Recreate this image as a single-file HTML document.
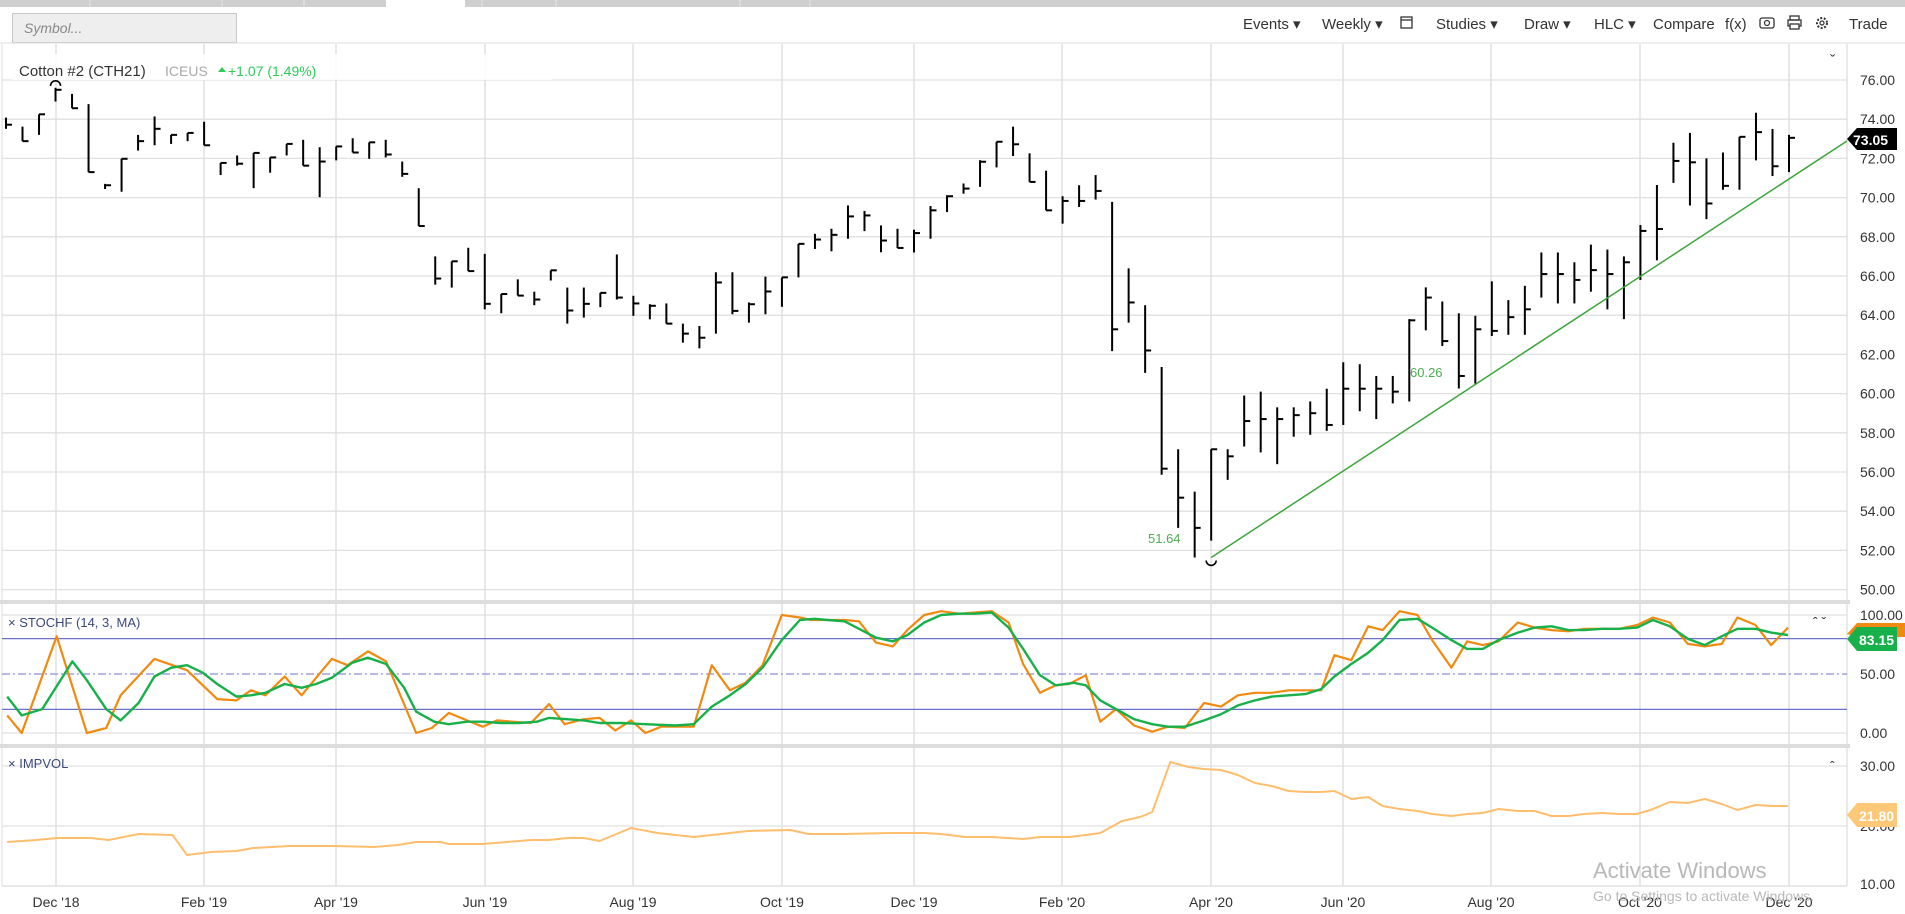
<!DOCTYPE html>
<html><head><meta charset="utf-8">
<style>
html,body{margin:0;padding:0;background:#fff;width:1905px;height:914px;overflow:hidden;font-family:"Liberation Sans",sans-serif;}
svg{position:absolute;left:0;top:0;}
text{font-family:"Liberation Sans",sans-serif;}
</style></head>
<body>
<svg id="s" width="1905" height="914" xmlns="http://www.w3.org/2000/svg"></svg>
<script>
const S=document.getElementById('s');let h='';
function L(x1,y1,x2,y2,c,w,extra){h+=`<line x1="${x1}" y1="${y1}" x2="${x2}" y2="${y2}" stroke="${c}" stroke-width="${w}" ${extra||''}/>`;}
function T(x,y,t,sz,c,extra){h+=`<text x="${x}" y="${y}" font-size="${sz}" fill="${c}" ${extra||''}>${t}</text>`;}
h+=`<rect x="0" y="0" width="1905" height="7" fill="#cfcfcf"/>`;
h+=`<rect x="386" y="0" width="79" height="7" fill="#fff"/>`;
[90,222,304,482,556,740,810].forEach(x=>L(x,0,x,7,'#e8e8e8',1));
h+=`<rect x="12.5" y="13.5" width="224" height="29" fill="#eee" stroke="#c8c8c8"/>`;
T(24,33,'Symbol...',14,'#888','font-style="italic"');
const tb=[[1243,'Events ▾'],[1322,'Weekly ▾'],[1436,'Studies ▾'],[1524,'Draw ▾'],[1594,'HLC ▾'],[1653,'Compare'],[1725,'f(x)'],[1849,'Trade']];
tb.forEach(a=>T(a[0],29,a[1],15,'#333'));
h+=`<rect x="1401" y="17" width="11" height="11" fill="none" stroke="#333" stroke-width="1.3"/>`;L(1401,20,1412,20,'#333',1.3);
h+=`<rect x="1760" y="18" width="14" height="10" rx="2" fill="none" stroke="#333" stroke-width="1.3"/><circle cx="1767" cy="23" r="2.5" fill="none" stroke="#333" stroke-width="1.2"/>`;
h+=`<rect x="1790" y="16" width="9" height="4" fill="none" stroke="#333" stroke-width="1.3"/><rect x="1788" y="20" width="13" height="6" fill="none" stroke="#333" stroke-width="1.3"/><rect x="1790" y="24" width="9" height="5" fill="#fff" stroke="#333" stroke-width="1.3"/>`;
h+=`<circle cx="1822" cy="23" r="5" fill="none" stroke="#333" stroke-width="2" stroke-dasharray="2 1.6"/><circle cx="1822" cy="23" r="2" fill="none" stroke="#333" stroke-width="1.2"/>`;
L(0,43,1905,43,'#ddd',1);
const gx=[56,204,336,485,633,782,914,1062,1211,1343,1491,1640,1789];
const gl=["Dec '18","Feb '19","Apr '19","Jun '19","Aug '19","Oct '19","Dec '19","Feb '20","Apr '20","Jun '20","Aug '20","Oct '20","Dec '20"];
gx.forEach((x,i)=>{L(x,44,x,886,'#dcdcdc',1.3);T(x,907,gl[i],14,'#333','text-anchor="middle"');});
const py=p=>80+(76-p)*19.6;
for(let p=50;p<=76;p+=2){L(2,py(p),1847,py(p),'#e0e0e0',1.3);T(1860,py(p)+5,p.toFixed(2),14,'#333');}
L(2,44,2,886,'#ddd',1);L(1847,44,1847,886,'#ddd',1.3);
h+=`<rect x="0" y="600" width="1850" height="4" fill="#ddd"/>`;
h+=`<rect x="0" y="744" width="1850" height="4" fill="#ddd"/>`;
L(2,886,1847,886,'#ddd',1.3);
h+=`<rect x="12" y="54" width="540" height="26" fill="rgba(255,255,255,0.85)"/>`;
T(19,76,'Cotton #2 (CTH21)',15,'#333');T(165,76,'ICEUS',14,'#aaa');
h+=`<path d="M218 72 l4 -5 l4 5z" fill="#2ecc55"/>`;T(228,76,'+1.07 (1.49%)',14,'#2ecc55');
T(1830,66,'ˇ',16,'#333');
const B=[[74.08,73.51,73.72],[73.62,72.88,72.88],[74.25,73.2,74.25],[75.6,74.9,75.5],[75.29,74.56,74.56],[74.77,71.3,71.3],[70.7,70.44,70.63],[71.98,70.3,71.98],[73.2,72.4,72.88],[74.14,72.67,73.51],[73.2,72.74,73.2],[73.3,72.88,73.3],[73.87,72.67,72.67],[71.77,71.15,71.77],[72.15,71.63,71.73],[72.28,70.48,72.28],[72.05,71.27,72.05],[72.74,72.15,72.74],[72.95,71.63,71.63],[72.57,70.02,71.84],[72.61,71.9,72.61],[73.03,72.3,72.3],[72.82,71.98,72.82],[72.95,72.05,72.2],[71.84,71.06,71.21],[70.48,68.55,68.55],[67.0,65.56,65.87],[66.75,65.41,66.75],[67.44,66.25,66.25],[67.13,64.3,64.58],[65.08,64.1,65.08],[65.83,65.0,65.0],[65.2,64.51,64.8],[66.29,65.77,66.29],[65.41,63.57,64.24],[65.41,63.88,64.58],[65.14,64.41,65.14],[67.1,64.8,64.9],[64.99,63.97,64.6],[64.56,63.79,64.48],[64.6,63.57,63.57],[63.57,62.6,63.06],[63.45,62.31,62.85],[66.19,63.06,65.67],[66.19,64.05,64.22],[64.65,63.62,64.56],[65.97,64.05,65.21],[65.93,64.43,65.93],[67.64,65.93,67.64],[68.15,67.38,67.86],[68.41,67.26,68.1],[69.6,67.9,69.04],[69.32,68.29,69.09],[68.58,67.21,67.81],[68.41,67.43,67.43],[68.36,67.2,68.19],[69.57,67.9,69.35],[70.12,69.26,70.07],[70.72,70.2,70.46],[71.91,70.55,71.83],[72.85,71.54,72.85],[73.62,72.12,72.72],[72.26,70.8,70.8],[71.37,69.35,69.35],[70.07,68.67,69.83],[70.63,69.52,69.83],[71.15,69.9,70.34],[69.78,62.17,63.28],[66.39,63.62,64.65],[64.51,61.06,62.2],[61.36,55.86,56.17],[57.16,53.15,54.69],[55.0,51.64,53.15],[57.16,52.5,57.16],[57.16,55.6,56.8],[59.9,57.3,58.6],[60.1,57.0,58.7],[59.3,56.4,58.7],[59.3,57.8,58.9],[59.6,57.9,59.0],[60.25,58.1,58.4],[61.6,58.4,60.25],[61.5,59.1,60.25],[60.9,58.7,60.25],[60.9,59.5,60.1],[63.8,59.6,63.74],[65.42,63.23,64.9],[64.7,62.43,62.68],[64.1,60.26,60.9],[63.97,60.5,63.28],[65.73,62.94,63.2],[64.77,63.0,63.9],[65.5,63.0,64.3],[67.2,64.9,66.1],[67.2,64.6,66.1],[66.7,64.6,65.8],[67.6,65.2,66.3],[67.35,64.3,66.1],[67.0,63.8,66.7],[68.6,65.8,68.3],[70.64,66.8,68.4],[72.8,70.75,71.87],[73.3,69.6,71.8],[72.0,68.9,69.7],[72.3,70.4,70.6],[73.1,70.4,73.1],[74.33,71.9,73.34],[73.5,71.1,71.6],[73.2,71.3,73.05]];
const N=B.length,bx=i=>6+i*(1789-6)/(N-1);
B.forEach((b,i)=>{const x=bx(i);L(x,py(b[0]),x,py(b[1]),'#000',2);L(x,py(b[2]),x+6,py(b[2]),'#000',2);});
h+=`<path d="M${bx(3)-5} ${py(75.6)-2} a5 5 0 0 1 10 0" fill="none" stroke="#000" stroke-width="1.6"/>`;
h+=`<path d="M${bx(73)-5} ${py(51.64)+3} a5 5 0 0 0 10 0" fill="none" stroke="#000" stroke-width="1.6"/>`;
L(bx(73),py(51.64),1847,141,'#3aa63a',1.5);
T(1148,543,'51.64',13,'#4caf50');T(1410,377,'60.26',13,'#4caf50');
h+=`<path d="M1847 139 l10 -11 h40 v22 h-40z" fill="#000"/>`;T(1853,145,'73.05',14,'#fff','font-weight="bold"');
const sy=v=>733-v*1.18;
L(2,sy(100),1847,sy(100),'#e0e0e0',1.3);L(2,sy(0),1847,sy(0),'#e0e0e0',1.3);
L(2,sy(80),1847,sy(80),'#6b70c8',1.3);L(2,sy(20),1847,sy(20),'#6b70c8',1.3);
L(2,sy(50),1847,sy(50),'#8a8fd8',1.3,'stroke-dasharray="8 3 2 3"');
T(1860,sy(100)+5,'100.00',14,'#333');T(1860,sy(50)+5,'50.00',14,'#333');T(1860,sy(0)+5,'0.00',14,'#333');
T(8,627,'× STOCHF (14, 3, MA)',13,'#3a4a7a');T(1813,627,'ˆ ˇ',14,'#333');
const sx=x=>x*1.2065,sv=ys=>733-(602-ys)*1.2553;
function poly(pts,c,w,fy){h+=`<polyline fill="none" stroke="${c}" stroke-width="${w}" stroke-linejoin="round" points="${pts.map(p=>sx(p[0]).toFixed(1)+','+fy(p[1]).toFixed(1)).join(' ')}"/>`;}
const OR=[[6,588],[18,602],[47,525],[72,602],[88,598],[100,572],[128,543],[155,552],[180,575],[196,576],[208,568],[220,572],[236,557],[250,572],[275,543],[288,548],[305,537],[320,545],[345,602],[358,598],[372,586],[387,592],[400,597],[412,592],[425,593],[440,594],[455,579],[468,595],[484,591],[497,590],[510,600],[523,592],[535,602],[548,597],[575,597],[590,548],[605,568],[618,562],[632,548],[648,508],[663,510],[672,512],[686,512],[700,512],[712,513],[726,530],[740,533],[752,520],[766,508],[780,505],[795,507],[808,506],[822,505],[836,514],[848,547],[862,570],[875,564],[886,563],[900,556],[912,593],[925,583],[940,596],[955,601],[968,597],[982,598],[998,578],[1012,581],[1026,572],[1040,570],[1054,570],[1068,568],[1082,568],[1095,568],[1106,540],[1120,544],[1134,517],[1146,520],[1160,505],[1175,508],[1187,528],[1203,550],[1216,529],[1229,532],[1242,529],[1258,514],[1272,518],[1286,520],[1300,521],[1313,519],[1328,519],[1342,519],[1357,516],[1370,510],[1384,514],[1399,531],[1413,533],[1427,531],[1440,510],[1455,516],[1468,532],[1482,518]];
const GR=[[6,573],[18,588],[35,583],[60,545],[72,560],[88,583],[100,592],[115,578],[128,557],[142,550],[155,548],[168,554],[180,563],[196,573],[208,572],[220,570],[236,563],[250,566],[262,563],[275,558],[292,546],[305,542],[320,547],[335,566],[345,585],[360,593],[372,595],[387,593],[400,593],[415,594],[430,594],[445,593],[455,590],[470,591],[484,592],[497,594],[515,594],[535,595],[560,596],[575,595],[590,581],[605,572],[618,563],[632,550],[648,528],[663,512],[675,511],[686,512],[700,513],[712,519],[726,526],[740,529],[752,524],[766,514],[780,508],[795,507],[808,507],[822,506],[836,518],[848,535],[862,556],[875,564],[890,562],[900,564],[912,576],[925,583],[940,591],[955,595],[968,597],[982,597],[998,592],[1012,587],[1026,580],[1040,576],[1054,573],[1068,572],[1082,571],[1095,567],[1106,557],[1120,547],[1134,538],[1146,528],[1160,512],[1175,511],[1187,518],[1203,528],[1216,535],[1229,535],[1242,528],[1258,522],[1272,518],[1286,517],[1300,520],[1313,520],[1328,519],[1342,519],[1357,518],[1370,512],[1384,517],[1399,527],[1413,532],[1427,525],[1440,519],[1455,519],[1468,522],[1482,524]];
poly(OR,'#f08a10',2.2,sv);poly(GR,'#18b04a',2.4,sv);
h+=`<path d="M1847 634 l10 -11 h48 v14 h-48z" fill="#f08a10"/>`;
h+=`<path d="M1847 639 l10 -12 h40 v24 h-40z" fill="#18b04a"/>`;T(1859,645,'83.15',14,'#fff','font-weight="bold"');
const iy=v=>766+(30-v)*6;
[30,20,10].forEach(v=>{L(2,iy(v),1847,iy(v),'#e0e0e0',1.3);});
T(1860,iy(30)+5,'30.00',14,'#333');T(1860,iy(20)+5,'20.00',14,'#333');T(1860,iy(10)+3,'10.00',14,'#333');
T(8,768,'× IMPVOL',13,'#3a4a7a');T(1830,771,'ˆ',14,'#333');
const IV=[[6,707],[30,705],[47,703],[75,703],[90,705],[115,699],[143,700],[155,720],[175,717],[196,716],[210,713],[240,711],[278,711],[310,712],[330,710],[345,707],[365,707],[372,709],[400,709],[420,707],[440,705],[455,705],[470,703],[484,703],[497,706],[523,693],[545,698],[575,702],[590,700],[620,696],[655,695],[670,699],[700,699],[740,698],[766,698],[780,699],[800,702],[822,702],[848,704],[862,702],[886,702],[900,700],[912,698],[930,686],[945,682],[955,677],[970,627],[985,632],[998,634],[1012,635],[1026,640],[1040,648],[1054,651],[1068,656],[1082,657],[1095,657],[1106,656],[1120,664],[1134,662],[1146,671],[1160,674],[1175,676],[1187,679],[1203,681],[1216,679],[1229,678],[1242,674],[1258,676],[1272,676],[1286,681],[1300,681],[1313,679],[1328,678],[1342,679],[1357,679],[1370,674],[1384,667],[1399,668],[1413,664],[1427,669],[1440,675],[1455,670],[1468,671],[1482,671]];
poly(IV,'#ffbe6e',2,y=>y+135);
h+=`<path d="M1847 815 l10 -12 h40 v24 h-40z" fill="#ffc878"/>`;T(1859,821,'21.80',14,'#fff','font-weight="bold"');
T(1593,878,'Activate Windows',22,'#b8b8b8');T(1593,901,'Go to Settings to activate Windows.',14,'#b8b8b8');
S.innerHTML=h;
</script>
</body></html>
